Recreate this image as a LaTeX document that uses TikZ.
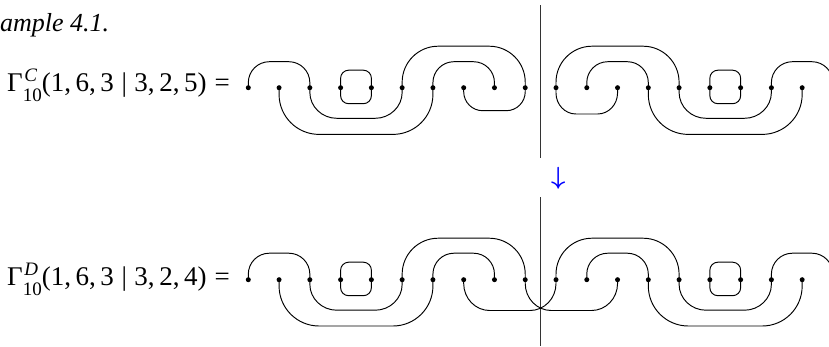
\documentclass[tikz,border=0pt]{standalone}
\usepackage{bm}
\usepackage{fontspec}
\setmainfont{Liberation Serif}
\usetikzlibrary{calc}
\newcommand{\scr}{\fontsize{19}{19}\selectfont}
\newcommand{\gam}[2]{Γ\makebox[0pt][l]{\hspace{0.06em}\raisebox{0.36em}{\scr\itshape #1}}\raisebox{-0.4em}{\scr 10}(1,\hspace{0.17em}6,\hspace{0.17em}3\hspace{0.28em}|\hspace{0.28em}3,\hspace{0.17em}2,\hspace{0.17em}#2)\hspace{0.3em}=}
\newcommand{\bdarr}{$\bm{\downarrow}$}
% hump above: #1 from node, #2 to node, #3 height, #4 x radius, #5 y radius
\newcommand{\uph}[5]{\draw[lnk] (#1.center) -- ++(0,{-(#3-#5)}) arc[start angle=180,end angle=270,x radius=#4,y radius=#5] -- ($(#2)+(-#4,-#3)$) arc[start angle=270,end angle=360,x radius=#4,y radius=#5] -- (#2.center);}
% hump below
\newcommand{\dnh}[5]{\draw[lnk] (#1.center) -- ++(0,{#3-#5}) arc[start angle=180,end angle=90,x radius=#4,y radius=#5] -- ($(#2)+(-#4,#3)$) arc[start angle=90,end angle=0,x radius=#4,y radius=#5] -- (#2.center);}
% small closed loop through two nodes
\newcommand{\lp}[2]{\draw[lnk] (#1.center) -- ++(0,-9.5) arc[start angle=180,end angle=270,radius=8] -- ($(#2)+(-8,-17.5)$) arc[start angle=270,end angle=360,radius=8] -- (#2.center) -- ($(#2)+(0,8)$) arc[start angle=0,end angle=90,radius=8] -- ($(#1)+(8,16)$) arc[start angle=90,end angle=180,radius=8] -- cycle;}
\begin{document}
\begin{tikzpicture}[x=1pt,y=-1pt,
  pt/.style={circle,fill=black,inner sep=0pt,minimum size=5pt},
  lnk/.style={line width=0.95pt},
  axis/.style={line width=1pt,black!80},
  lbl/.style={font=\fontsize{27}{27}\selectfont,inner sep=0pt,anchor=base west}]
\useasboundingbox (0,0) rectangle (829,346);
\clip (0,0) rectangle (829,346);
% labels
\node[lbl,font=\fontsize{26}{26}\selectfont\itshape] (ex) at (0,31) {ample 4.1.};
\node[lbl] (gc) at (7,91) {\gam{C}{5}};
\node[lbl] (gd) at (7,285) {\gam{D}{4}};
% vertical lines
\coordinate (vt1) at (540.7,5);
\coordinate (vt2) at (540.7,158);
\coordinate (vb1) at (540.7,197);
\coordinate (vb2) at (540.7,346);
\draw[axis] (vt1) -- (vt2);
\draw[axis] (vb1) -- (vb2);
% arrow
\node[text=blue,font=\fontsize{26}{26}\selectfont,inner sep=0pt] (arr) at (558.3,178.5) {\bdarr};
% dots
\foreach \i in {1,...,19} {
  \node[pt] (c\i) at ({248.3+(\i-1)*30.77},87.7) {};
  \node[pt] (d\i) at ({248.3+(\i-1)*30.77},279.7) {};
}
\coordinate (c20) at (832.9,87.7);
\coordinate (d20) at (832.9,279.7);
% ---------- top row C ----------
\uph{c1}{c3}{26}{21}{21}
\lp{c4}{c5}
\uph{c6}{c10}{41.5}{36}{36}
\uph{c7}{c9}{26}{21}{21}
\dnh{c2}{c7}{46.7}{40}{40}
\dnh{c3}{c6}{30.6}{27}{26}
\dnh{c8}{c10}{23}{19}{19}
\uph{c11}{c15}{41.5}{36}{36}
\uph{c12}{c14}{26}{21}{21}
\dnh{c11}{c13}{26.3}{20}{21}
\dnh{c14}{c19}{46.7}{40}{40}
\dnh{c15}{c18}{30.6}{27}{26}
\lp{c16}{c17}
\uph{c18}{c20}{26}{21}{21}
% ---------- bottom row D ----------
\uph{d1}{d3}{26.5}{21}{21}
\lp{d4}{d5}
\uph{d6}{d10}{41.5}{36}{36}
\uph{d7}{d9}{26.5}{21}{21}
\dnh{d2}{d7}{46.3}{40}{40}
\dnh{d3}{d6}{30.5}{27}{26}
\dnh{d8}{d11}{30.8}{26}{27}
\dnh{d10}{d13}{30.8}{26}{27}
\uph{d11}{d15}{41.5}{36}{36}
\uph{d12}{d14}{26.5}{21}{21}
\dnh{d14}{d19}{46.3}{40}{40}
\dnh{d15}{d18}{30.5}{27}{26}
\lp{d16}{d17}
\uph{d18}{d20}{26.5}{21}{21}
\end{tikzpicture}
\end{document}
